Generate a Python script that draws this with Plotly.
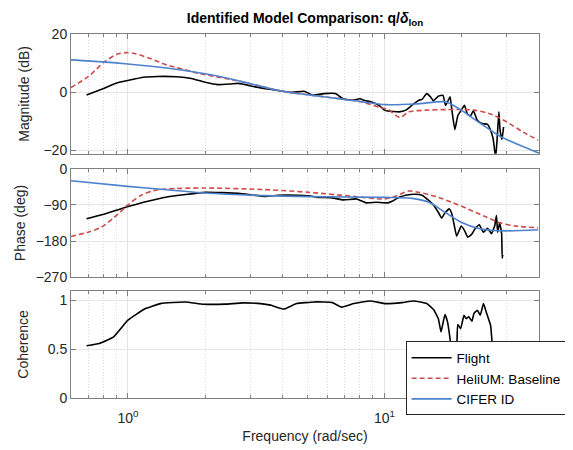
import plotly.graph_objects as go
from plotly.subplots import make_subplots

# ---------------- data ----------------
flight_mag_w = [0.69, 0.79, 0.91, 1.0, 1.15, 1.30, 1.55, 1.77, 2.02, 2.24, 2.51, 2.70, 3.13, 3.63,
                4.32, 4.86, 5.24, 5.81, 6.43, 6.92, 7.55, 8.02, 8.39, 8.9, 9.6, 10.0, 10.3, 11.4,
                12.1, 12.8, 13.6, 14.0, 14.6, 15.1, 15.5, 16.2, 16.9, 17.3, 18.0, 18.3, 18.8,
                19.3, 19.9, 20.5, 21.0, 21.6, 22.2, 23.0, 24.0, 25.2, 25.9, 26.5, 27.1, 27.5,
                27.9, 28.2, 28.7, 29.1]
flight_mag = [-1.0, 1.0, 3.2, 4.0, 5.1, 5.4, 5.3, 4.7, 3.3, 2.6, 2.8, 3.0, 1.8, 0.9,
              -0.1, 0.3, -1.0, -0.5, -0.5, -2.4, -2.7, -2.3, -2.9, -3.4, -4.8, -6.2, -6.5, -6.8,
              -6.2, -4.5, -2.8, -2.5, -0.5, -1.6, -3.0, -1.4, -1.1, -4.6, -1.6, -6.2, -12.9,
              -8.1, -6.2, -4.5, -7.4, -8.3, -6.4, -9.7, -10.8, -11.1, -13.1, -16.0, -22.5, -15.4,
              -6.8, -13.1, -16.3, -12.0]

flight_ph_w = [0.69, 0.79, 0.91, 1.0, 1.15, 1.42, 2.0, 2.7, 3.42, 3.84, 4.59, 5.08, 5.47, 6.15,
               6.92, 7.78, 8.5, 9.27, 10.3, 10.7, 11.4, 12.1, 13.2, 14.0, 14.9, 15.5, 16.2,
               16.7, 17.2, 17.9, 18.3, 18.7, 19.1, 19.9, 20.5, 21.1, 21.8, 22.5, 23.4, 24.3,
               25.2, 26.1, 26.9, 27.3, 27.6, 28.1, 28.6, 28.75, 28.9]
flight_ph = [-124.6, -114.7, -102.4, -94.2, -83.6, -70.2, -58.8, -61.3, -68.8, -66, -66, -67.4,
             -71.2, -72, -77.6, -75.2, -85, -83.6, -85, -81, -71.2, -66, -63.5, -66, -79.5, -90,
             -108.3, -123, -110, -100, -112.6, -141, -167.6, -142.6, -154, -170, -164, -150,
             -139.5, -158, -148, -161.7, -141, -116.5, -158, -134, -161.7, -222, -214]

flight_coh_w = [0.69, 0.773, 0.88, 1.0, 1.17, 1.34, 1.67, 1.97, 2.38, 2.8, 3.29, 3.6, 4.06, 4.54,
                5.33, 6.27, 6.8, 7.6, 8.76, 10.1, 11.7, 13.0, 14.6, 15.5, 16.2, 16.6, 17.2, 17.6,
                18.0, 18.5, 19.1, 19.3, 19.8, 20.4, 20.8, 21.3, 21.9, 22.3, 23.0, 23.6, 24.3,
                24.9, 25.4, 25.9, 26.3, 27.0, 28.0, 29.0]
flight_coh = [0.534, 0.558, 0.626, 0.796, 0.915, 0.966, 0.983, 0.96, 0.96, 0.973, 0.966, 0.95,
              0.91, 0.966, 0.983, 0.976, 0.93, 0.966, 0.993, 0.966, 0.976, 0.993, 0.966, 0.908,
              0.813, 0.677, 0.854, 0.779, 0.609, 0.35, 0.5, 0.752, 0.71, 0.847, 0.813, 0.83,
              0.786, 0.864, 0.898, 0.847, 0.966, 0.88, 0.813, 0.745, 0.55, 0.35, 0.25, 0.3]

helium_w = [0.6, 0.7, 0.81, 0.91, 0.98, 1.06, 1.22, 1.42, 1.64, 1.9, 2.5, 3.0, 4.0, 5.8, 8.2,
            9.6, 10.3, 11.5, 12.4, 14.4, 17.7, 22.4, 26.0, 29.9, 34.6, 39.7]
helium_mag = [1.6, 5.3, 10.4, 13.1, 13.6, 13.3, 11.6, 9.3, 7.9, 6.4, 4.4, 2.9, 0.3, -1.6, -3.4,
              -5.3, -5.9, -8.7, -6.8, -6.2, -6.0, -6.2, -7.6, -10.2, -13.7, -16.5]
helium_ph_w = [0.6, 0.7, 0.79, 0.886, 1.0, 1.12, 1.26, 1.42, 2.0, 3.42, 5.08, 7.55, 10.0, 11.0,
               12.4, 13.6, 15.8, 18.3, 21.1, 24.5, 28.2, 32.7, 39.7]
helium_ph = [-168.4, -157.7, -145, -120.5, -90, -67, -54.6, -50.4, -48, -52, -58.8, -68.8,
             -75.2, -68.8, -55.5, -58.8, -68.8, -83.6, -100, -118.2, -134.5, -142.8, -146.9]

cifer_w = [0.6, 0.8, 1.0, 1.42, 2.0, 2.5, 3.0, 4.0, 5.8, 8.2, 10.0, 13.2, 17.2, 18.5, 19.9,
           23.7, 28.2, 33.7, 40.0]
cifer_mag = [11.1, 10.4, 9.7, 8.3, 6.3, 4.6, 2.9, 0.3, -1.6, -3.3, -4.3, -4.1, -3.3, -4.5, -6.2,
             -10.8, -15.2, -18.3, -21.0]
cifer_ph_w = [0.6, 1.0, 1.42, 2.0, 3.42, 5.08, 10.0, 12.8, 14.9, 17.2, 19.9, 23.1, 28.2, 39.7]
cifer_ph = [-29.9, -44, -52.2, -60.3, -67, -69.5, -71.2, -73.7, -83.6, -108.3, -133, -147.8,
            -154.3, -151.8]

x_tickvals = [1, 10]
x_ticktext = ["10<sup>0</sup>", "10<sup>1</sup>"]
x_minor = [0.6, 0.7, 0.8, 0.9, 2, 3, 4, 5, 6, 7, 8, 9, 20, 30, 40]

# ---------------- style ----------------
FONT = "Liberation Sans, Arial, sans-serif"
TXT = "#262626"
AX = "#808080"
C_FLIGHT = "#000000"
C_HELI = "#CC4B4B"
C_CIFER = "#4D82CC"
W = 1.6

fig = make_subplots(rows=3, cols=1)

def add(w, y, name, color, dash, row, show, smoothing):
    fig.add_trace(go.Scatter(
        x=w, y=y, mode="lines", name=name, showlegend=show, legendgroup=name,
        line=dict(color=color, width=W, dash=dash, shape="spline", smoothing=smoothing),
    ), row=row, col=1)

DASH = "5px,3px"
# magnitude
add(flight_mag_w, flight_mag, "Flight", C_FLIGHT, "solid", 1, True, 0.4)
add(helium_w, helium_mag, "HeliUM: Baseline", C_HELI, DASH, 1, True, 0.8)
add(cifer_w, cifer_mag, "CIFER ID", C_CIFER, "solid", 1, True, 0.8)
# phase
add(flight_ph_w, flight_ph, "Flight", C_FLIGHT, "solid", 2, False, 0.4)
add(helium_ph_w, helium_ph, "HeliUM: Baseline", C_HELI, DASH, 2, False, 0.8)
add(cifer_ph_w, cifer_ph, "CIFER ID", C_CIFER, "solid", 2, False, 0.8)
# coherence
add(flight_coh_w, flight_coh, "Flight", C_FLIGHT, "solid", 3, False, 0.4)

xcommon = dict(
    type="log", range=[-0.2218, 1.602], tickmode="array", tickvals=x_tickvals,
    ticktext=x_ticktext, ticks="inside", ticklen=5, tickcolor=AX,
    showline=True, linecolor=AX, linewidth=1, mirror="allticks",
    showgrid=True, gridcolor="#e4e4e4", gridwidth=1, zeroline=False,
    minor=dict(tickmode="array", tickvals=x_minor, ticks="inside", ticklen=3,
               tickcolor=AX, showgrid=True, gridcolor="#dcdcdc", griddash="1px,2px",
               gridwidth=1),
    tickfont=dict(family=FONT, size=14, color=TXT),
)
ycommon = dict(
    ticks="inside", ticklen=5, tickcolor=AX, showline=True, linecolor=AX,
    linewidth=1, mirror="allticks", showgrid=True, gridcolor="#e6e6e6", gridwidth=1,
    zeroline=False, tickfont=dict(family=FONT, size=14, color=TXT),
    title_font=dict(family=FONT, size=14, color=TXT),
)

# the page body adds an 8px offset, so the figure is laid out 8px up/left
fig.update_layout(
    width=573, height=450,
    margin=dict(l=55, r=42, t=25.5, b=60),
    paper_bgcolor="white", plot_bgcolor="white",
    font=dict(family=FONT, size=14, color=TXT),
    title=dict(text="<b>Identified Model Comparison: q/<i>δ</i><sub>lon</sub></b>",
               x=0.5, xref="paper", xanchor="center", y=0.978, yanchor="middle",
               font=dict(family=FONT, size=14, color="#000000")),
    legend=dict(x=0.715, y=0.1553, xref="paper", yref="paper", xanchor="left", yanchor="top",
                bgcolor="white", bordercolor="#262626", borderwidth=1, itemwidth=40,
                font=dict(family=FONT, size=13.5, color="#000000"), tracegroupgap=0),
    showlegend=True,
)

fig.update_layout(
    xaxis=dict(xcommon, domain=[0, 1], showticklabels=False, anchor="y"),
    xaxis2=dict(xcommon, domain=[0, 1], showticklabels=False, anchor="y2"),
    xaxis3=dict(xcommon, domain=[0, 1], showticklabels=True, anchor="y3",
                ticklabelstandoff=7,
                title=dict(text="Frequency (rad/sec)", font=dict(family=FONT, size=14, color=TXT),
                           standoff=6)),
    yaxis=dict(ycommon, domain=[0.671, 1.0], range=[-21.2, 20], tickvals=[-20, 0, 20],
               title=dict(text="Magnitude (dB)", standoff=10)),
    yaxis2=dict(ycommon, domain=[0.3315, 0.630], range=[-270, 0], tickvals=[-270, -180, -90, 0],
                title=dict(text="Phase (deg)", standoff=6)),
    yaxis3=dict(ycommon, domain=[0.0, 0.294], range=[0, 1.095], tickvals=[0, 0.5, 1],
                title=dict(text="Coherence", standoff=15)),
)

fig.write_html("out.html")
